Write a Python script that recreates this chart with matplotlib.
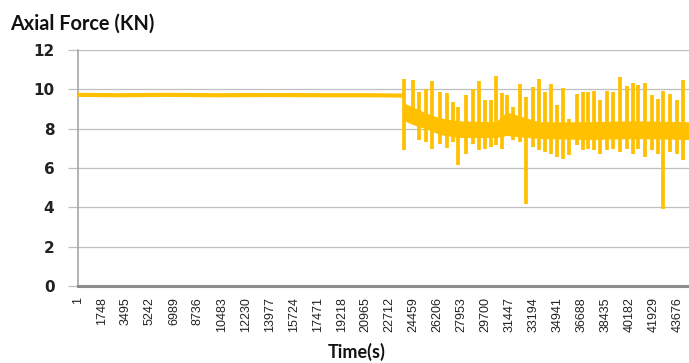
import matplotlib
matplotlib.use("Agg")
import matplotlib.pyplot as plt
import numpy as np

# steady part before the load starts fluctuating
steady_time = [1, 3000, 6500, 10000, 14000, 18000, 21500, 23760]
steady_force = [9.72, 9.70, 9.72, 9.70, 9.71, 9.70, 9.70, 9.68]

# fluctuating part: each spike as time, top and bottom (KN)
spike_time = [23769, 24424, 24861, 25348, 25809, 26369, 26855, 27292, 27705, 28264,
              28750, 29188, 29649, 30087, 30451, 30865, 31230, 31715, 32201, 32639,
              33125, 33611, 34024, 34462, 34874, 35312, 35798, 36333, 36819, 37183,
              37596, 38034, 38520, 39005, 39491, 39977, 40463, 40828, 41314, 41800,
              42237, 42650, 43136, 43622, 44108]
spike_high = [10.54, 10.49, 9.86, 10.03, 10.42, 9.86, 9.81, 9.36, 9.10, 9.69,
              10.03, 10.42, 9.44, 9.47, 10.66, 9.81, 9.69, 9.10, 10.29, 9.60,
              10.12, 10.54, 9.86, 10.25, 9.19, 10.08, 8.51, 9.78, 9.86, 9.86,
              9.92, 9.47, 9.92, 9.86, 10.63, 10.15, 10.32, 10.20, 10.32, 9.69,
              9.53, 9.92, 9.78, 9.47, 10.49]
spike_low = [6.90, 8.25, 7.41, 7.32, 6.98, 7.24, 7.03, 7.32, 6.14, 6.73,
             7.24, 6.90, 6.98, 7.07, 7.15, 6.98, 8.00, 7.41, 7.32, 4.19,
             7.07, 6.90, 6.81, 6.73, 6.56, 6.47, 6.64, 7.15, 6.90, 6.98,
             6.90, 6.73, 6.90, 6.98, 6.81, 6.98, 6.73, 6.98, 6.56, 6.90,
             6.73, 3.93, 6.81, 6.73, 6.39]

# dense band the signal stays in between spikes
band_time = [23769, 24424, 25348, 26369, 27705, 30451, 31230, 33611, 37183, 40463, 44600]
band_top = [9.30, 9.10, 8.80, 8.55, 8.40, 8.35, 8.85, 8.35, 8.35, 8.40, 8.35]
band_bottom = [8.40, 8.20, 8.00, 7.70, 7.55, 7.55, 7.65, 7.50, 7.45, 7.50, 7.45]

tick_values = [1 + 1747 * k for k in range(26)]
tick_labels = [str(v) for v in tick_values]

GOLD = "#FFC000"

fig = plt.figure(figsize=(6.89, 3.63), dpi=100)
ax = fig.add_axes([78 / 689, 1 - 286 / 363, 1 - 78 / 689, (286 - 50) / 363])

ax.plot(steady_time, steady_force, color=GOLD, lw=3.0, solid_capstyle="butt", zorder=3)
ax.fill_between(band_time, band_bottom, band_top, color=GOLD, lw=0, zorder=3)
ax.vlines(spike_time, spike_low, spike_high, color=GOLD, lw=2.7, zorder=3)

ax.set_xlim(1, 44520)
ax.set_ylim(0, 12)
ax.set_yticks(range(0, 13, 2))
ax.grid(axis="y", color="#BFBFBF", lw=0.9, zorder=0)
ax.set_axisbelow(True)

ax.set_xticks(tick_values)
ax.set_xticklabels(tick_labels, rotation=90, fontsize=9,
                   family=["Liberation Sans", "DejaVu Sans"], color="#222222")
ax.tick_params(axis="x", length=0, pad=8)
ax.tick_params(axis="y", length=7, width=0.9, color="#BFBFBF", pad=10,
               labelsize=11)
for lab in ax.get_yticklabels():
    lab.set_fontweight("bold")
    lab.set_color("#222222")

for side in ("top", "right"):
    ax.spines[side].set_visible(False)
ax.spines["left"].set_color("#A6A6A6")
ax.spines["left"].set_linewidth(1.2)
ax.spines["bottom"].set_color("#8C8C8C")
ax.spines["bottom"].set_linewidth(2.2)

fig.text(10 / 689, 1 - 24 / 363, "Axial Force (KN)", fontsize=14.3, fontweight="bold",
         family=["Lato", "DejaVu Sans"], va="center", ha="left", color="#111111")
fig.text(357 / 689, 1 - 352 / 363, "Time(s)", fontsize=13, fontweight="bold",
         family=["Lato", "DejaVu Sans"], va="center", ha="center", color="#111111")

fig.savefig("out.png", dpi=100)
